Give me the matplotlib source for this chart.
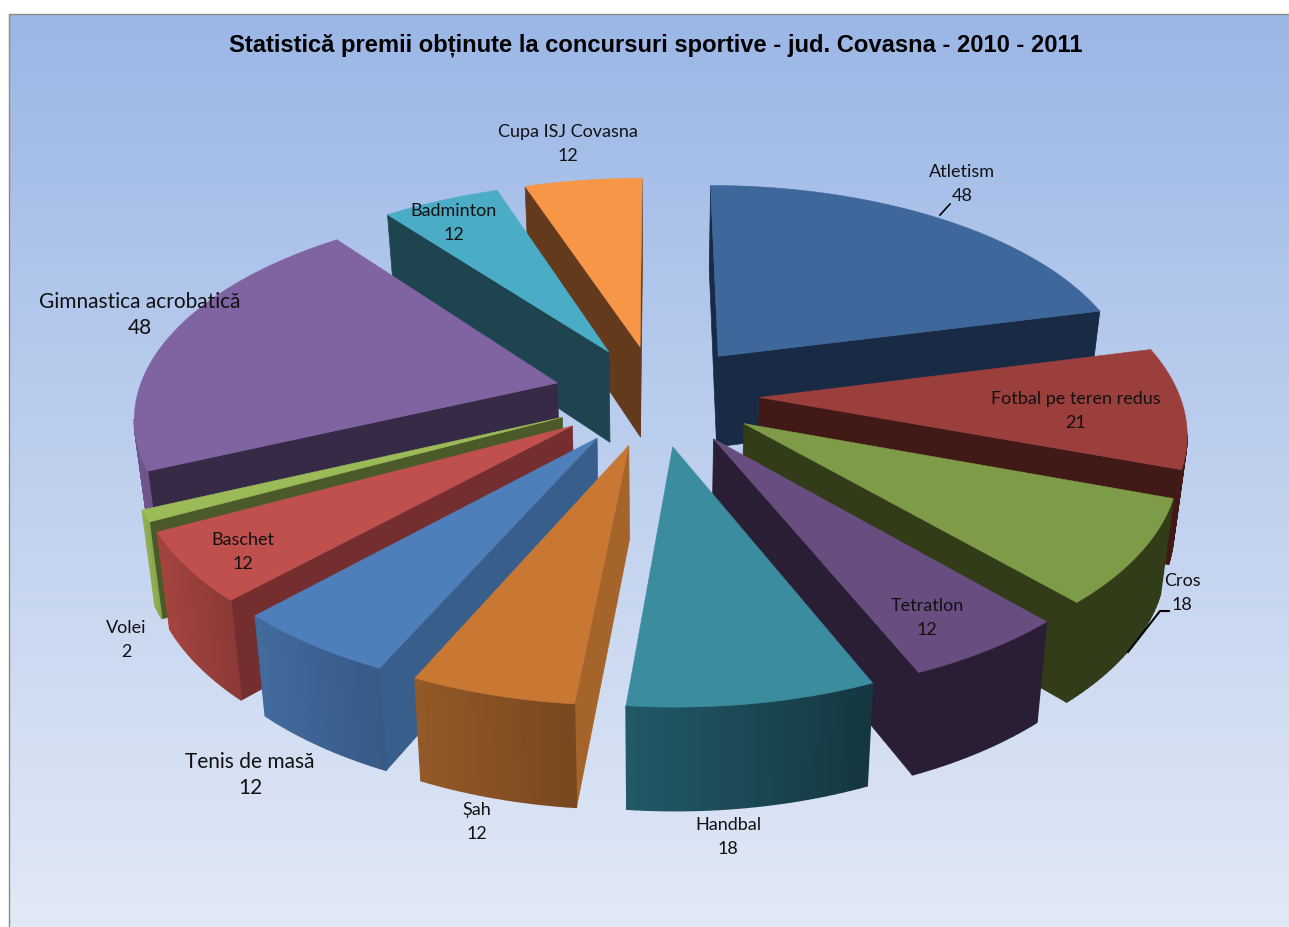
import numpy as np
import matplotlib
matplotlib.use('Agg')
import matplotlib.pyplot as plt
from matplotlib.patches import Polygon
from matplotlib.colors import to_rgb

title = 'Statistică premii obținute la concursuri sportive - jud. Covasna - 2010 - 2011'
names = ['Atletism', 'Fotbal pe teren redus', 'Cros', 'Tetratlon', 'Handbal', 'Șah',
         'Tenis de masă', 'Baschet', 'Volei', 'Gimnastica acrobatică', 'Badminton', 'Cupa ISJ Covasna']
values = [48, 21, 18, 12, 18, 12, 12, 12, 2, 48, 12, 12]
top_colors = ['#3e689b', '#9b3f3c', '#7e9b48', '#684e80', '#3c8ca0', '#c87832',
              '#4e7fbb', '#c0504d', '#9bbb59', '#8064a2', '#4bacc6', '#f79646']
cut_colors = ['#182a44', '#411916', '#323c19', '#2a1e34', '#1e5564', '#a5642a',
              '#385f8c', '#742e2f', '#4b5a28', '#372a46', '#1e4450', '#633a1c']
wall_left = ['#182a44', '#411916', '#323c19', '#2a1e34', '#225a68', '#945a28',
             '#426b9e', '#a5443f', '#96b455', '#6e558c', '#1e4450', '#633a1c']
wall_right = ['#182a44', '#411916', '#323c19', '#2a1e34', '#143741', '#784820',
              '#375a87', '#8c3a37', '#8aa64e', '#5f4b7d', '#1e4450', '#633a1c']
label_x = [962, 1076, 1182, 927, 728, 477, 250, 243, 126, 140, 454, 568]
label_y = [184, 411, 593, 618, 837, 822, 775, 552, 640, 315, 223, 144]
label_size = [13, 13, 13, 13, 13, 13, 15, 13, 13, 15, 13, 13]

W, H = 1289, 927
cx, cy = 656.5, 395
ax_x, ax_y = 420, 206
persp = 0.145
explode = 0.245
depth = 92


def project(x, y, z=0.0):
    s = 1 / (1 + persp * y)
    px = cx + ax_x * x * s
    py = cy - ax_y * y * s
    if z:
        # bottom ring pulled in a bit towards the middle
        px = cx + (px - cx) * 0.975
        py = py + depth * s ** 0.6
    return px, py


fig = plt.figure(figsize=(W / 100, H / 100), dpi=100)
ax = fig.add_axes([0, 0, 1, 1])

# background gradient
grad = np.linspace(0, 1, 256).reshape(-1, 1, 1)
c1 = np.array([155, 183, 230]) / 255
c2 = np.array([226, 233, 246]) / 255
ax.imshow(c1 + (c2 - c1) * grad, extent=[9, W, H, 14], aspect='auto', zorder=0)
ax.plot([9, 9, W], [H, 14, 14], color='#8a8a8a', lw=1, zorder=1)
ax.set_xlim(0, W)
ax.set_ylim(H, 0)
ax.axis('off')

angles = np.cumsum([0] + values) / sum(values) * 2 * np.pi
mids = (angles[:-1] + angles[1:]) / 2
order = np.argsort(-np.cos(mids))

z = 2
for i in order:
    a0, a1 = angles[i], angles[i + 1]
    ox = explode * np.sin(mids[i])
    oy = explode * np.cos(mids[i])
    th = np.linspace(a0, a1, max(int(np.degrees(a1 - a0)), 3))
    xs = ox + np.sin(th)
    ys = oy + np.cos(th)
    top = [project(x, y) for x, y in zip(xs, ys)]
    bot = [project(x, y, 1) for x, y in zip(xs, ys)]
    tip_t = project(ox, oy)
    tip_b = project(ox, oy, 1)

    # two cut faces, only the one turned to the viewer is kept
    for n, pts in enumerate([[tip_t, top[0], bot[0], tip_b], [tip_t, top[-1], bot[-1], tip_b]]):
        p = np.array(pts)
        area = np.sum(p[:, 0] * np.roll(p[:, 1], -1) - np.roll(p[:, 0], -1) * p[:, 1])
        if (area > 0) == (n == 1):
            ax.add_patch(Polygon(pts, closed=True, fc=cut_colors[i], ec=cut_colors[i], lw=0.5, zorder=z))
            z += 1

    # outer wall, strip by strip for the gradient
    left = np.array(to_rgb(wall_left[i]))
    right = np.array(to_rgb(wall_right[i]))
    x_lo = min(t[0] for t in top)
    x_hi = max(t[0] for t in top)
    for k in range(len(top) - 1):
        if top[k + 1][0] > top[k][0]:
            continue
        f = (top[k][0] - x_lo) / (x_hi - x_lo)
        col = tuple(left + (right - left) * f)
        ax.add_patch(Polygon([top[k], top[k + 1], bot[k + 1], bot[k]], closed=True,
                             fc=col, ec=col, lw=1.0, zorder=z))
    z += 1
    ax.add_patch(Polygon([tip_t] + top, closed=True, fc=top_colors[i], ec=top_colors[i], lw=0.4, zorder=z))
    z += 1

for n, v, x, y, fs in zip(names, values, label_x, label_y, label_size):
    ax.text(x, y, '%s\n%d' % (n, v), ha='center', va='center', fontsize=fs,
            family='Lato', color='#111111', linespacing=1.62 * 13 / fs, zorder=z + 1)

ax.plot([940, 950], [215, 204], color='black', lw=1.2, zorder=z)
ax.plot([1128, 1160, 1169], [652, 611, 611], color='black', lw=1.5, zorder=z)
ax.text(655.5, 45, title, ha='center', va='center', fontsize=17.1, fontweight='bold',
        family='Liberation Sans', color='black', zorder=z + 1)

fig.savefig('out.png', dpi=100)
